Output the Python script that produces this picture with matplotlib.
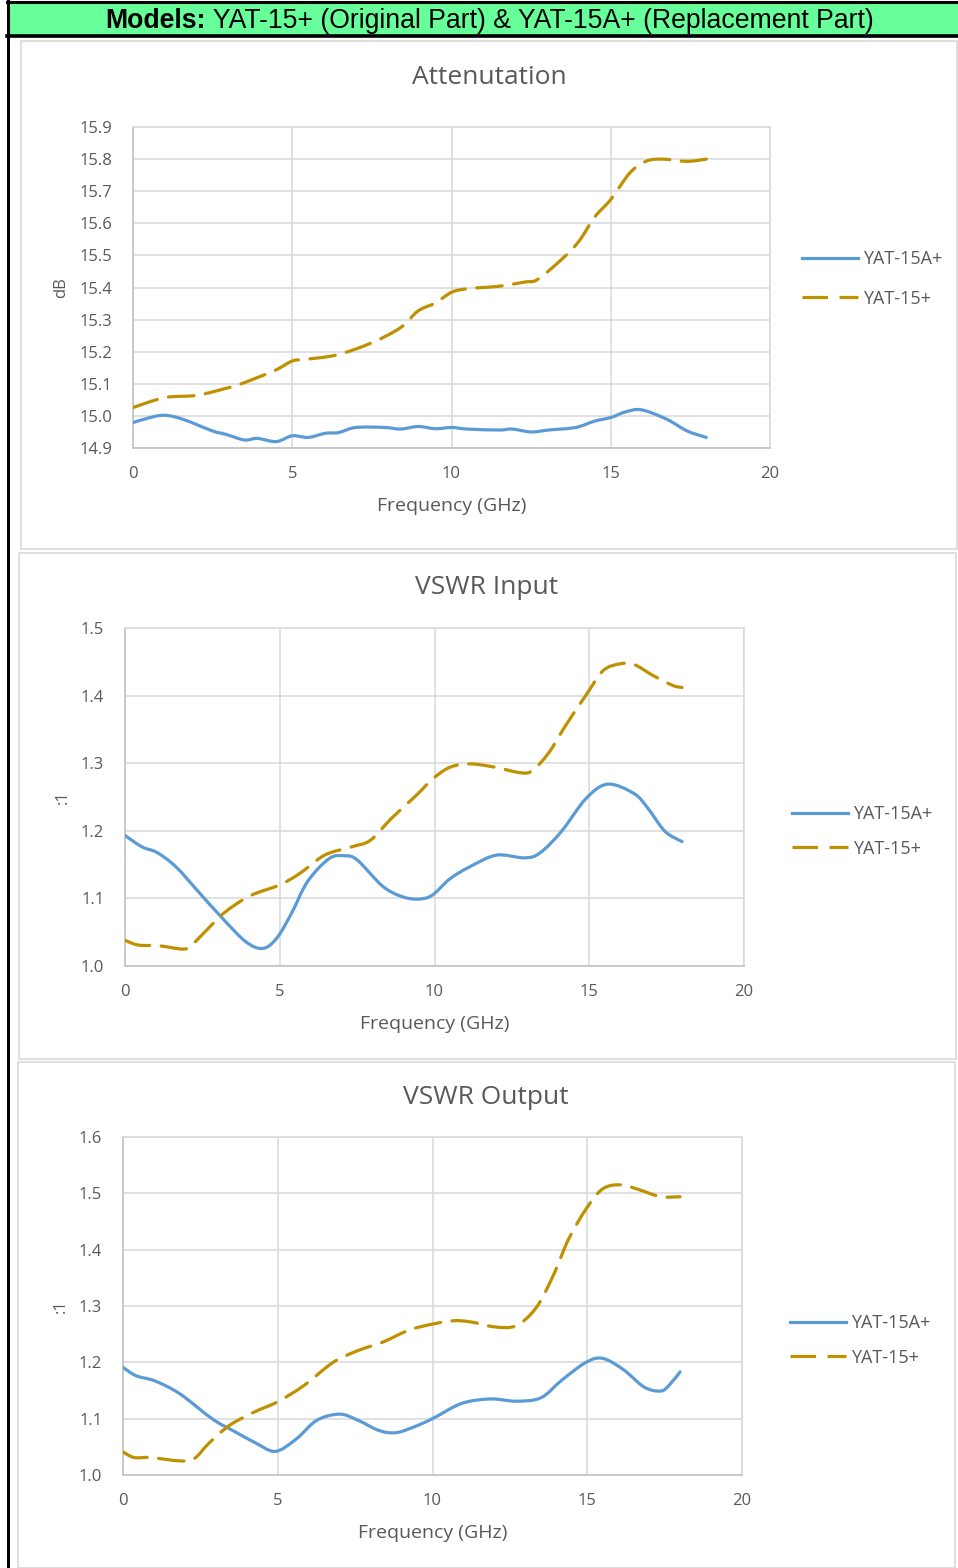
import numpy as np
import matplotlib.pyplot as plt
from matplotlib.patches import Rectangle, PathPatch
from matplotlib.lines import Line2D
from matplotlib.path import Path

W, H = 958, 1568

# ---------------- data ----------------
# Attenuation (dB)
att_a_f = [0, 0.36, 0.95, 1.55, 2.5, 2.9, 3.5, 3.9, 4.5, 5.0, 5.5, 6.05, 6.45, 7.0, 7.9, 8.4,
           8.95, 9.5, 10.0, 10.5, 11.5, 11.9, 12.5, 13.05, 13.9, 14.5, 15.0, 15.45, 15.96,
           16.75, 17.4, 18.0]
att_a_v = [14.979, 14.99, 15.002, 14.99, 14.953, 14.943, 14.925, 14.93, 14.92, 14.938, 14.933,
           14.946, 14.948, 14.964, 14.964, 14.959, 14.967, 14.96, 14.964, 14.959, 14.956,
           14.959, 14.95, 14.956, 14.964, 14.984, 14.995, 15.012, 15.019, 14.99, 14.953, 14.933]
att_o_f = [0, 1.0, 2.0, 3.0, 3.4, 4.46, 5.0, 5.4, 6.4, 7.5, 8.4, 8.95, 9.5, 10.0, 10.5, 11.5,
           12.3, 12.7, 13.45, 14.0, 14.5, 15.0, 15.6, 16.1, 16.6, 17.4, 18.0]
att_o_v = [15.026, 15.057, 15.064, 15.088, 15.10, 15.142, 15.171, 15.176, 15.19, 15.228, 15.275,
           15.327, 15.352, 15.385, 15.396, 15.404, 15.417, 15.425, 15.487, 15.544, 15.62,
           15.674, 15.757, 15.793, 15.80, 15.793, 15.80]

# VSWR input (:1)
vin_a_f = [0, 0.56, 1.03, 1.64, 2.37, 3.1, 3.9, 4.45, 4.9, 5.38, 5.9, 6.6, 7.1, 7.5, 8.3, 8.87,
           9.4, 9.9, 10.5, 11.15, 12.0, 12.9, 13.4, 14.1, 14.9, 15.6, 16.45, 16.9, 17.45, 18.0]
vin_a_v = [1.193, 1.176, 1.168, 1.147, 1.11, 1.073, 1.036, 1.026, 1.041, 1.078, 1.125, 1.159,
           1.163, 1.157, 1.119, 1.104, 1.099, 1.104, 1.129, 1.147, 1.164, 1.16, 1.167, 1.199,
           1.248, 1.269, 1.255, 1.233, 1.199, 1.184]
vin_o_f = [0, 0.43, 1.1, 1.9, 2.2, 2.7, 3.24, 4.05, 5.0, 5.65, 6.45, 7.3, 7.93, 8.6, 9.4, 9.95,
           10.5, 11.15, 11.96, 12.76, 13.16, 13.7, 14.24, 14.9, 15.45, 16.0, 16.45, 17.05, 17.7,
           18.0]
vin_o_v = [1.038, 1.031, 1.03, 1.025, 1.033, 1.056, 1.08, 1.104, 1.12, 1.137, 1.164, 1.176,
           1.186, 1.218, 1.252, 1.277, 1.294, 1.299, 1.294, 1.286, 1.289, 1.316, 1.356, 1.401,
           1.437, 1.447, 1.446, 1.43, 1.415, 1.412]

# VSWR output (:1)
vout_a_f = [0, 0.43, 1.03, 1.84, 2.9, 3.58, 4.25, 4.92, 5.6, 6.26, 7.0, 7.6, 8.27, 8.8, 9.34,
            10.0, 10.94, 11.88, 12.7, 13.5, 14.17, 14.96, 15.5, 16.17, 16.84, 17.37, 17.64, 18.0]
vout_a_v = [1.191, 1.176, 1.167, 1.144, 1.099, 1.078, 1.058, 1.042, 1.064, 1.097, 1.108, 1.097,
            1.079, 1.075, 1.084, 1.10, 1.127, 1.135, 1.131, 1.137, 1.168, 1.20, 1.207, 1.187,
            1.156, 1.149, 1.159, 1.183]
vout_o_f = [0, 0.36, 0.9, 1.84, 2.3, 2.77, 3.44, 4.25, 5.0, 5.85, 6.79, 7.6, 8.4, 9.34, 10.54,
            11.2, 12.0, 12.7, 13.35, 13.9, 14.4, 14.96, 15.5, 16.1, 16.7, 17.37, 18.0]
vout_o_v = [1.041, 1.031, 1.031, 1.025, 1.029, 1.056, 1.088, 1.112, 1.13, 1.159, 1.20, 1.221,
            1.236, 1.259, 1.273, 1.272, 1.263, 1.265, 1.297, 1.354, 1.419, 1.472, 1.508, 1.515,
            1.506, 1.494, 1.494]

labels = ["YAT-15A+", "YAT-15+"]
header_bold = "Models:"
header_rest = " YAT-15+ (Original Part) & YAT-15A+ (Replacement Part)"

# ---------------- style ----------------
blue = "#5B9BD5"
gold = "#BF9000"
txt = "#595959"
grid = "#D9D9D9"
FONT = ["Open Sans", "DejaVu Sans"]
DASH = (8, 3.6)


def fx(x):
    return x / W


def fy(y):
    return 1 - y / H


def smooth_path(xs, ys):
    # Excel-style smoothed line: bezier segments through the measured points
    p = np.column_stack([xs, ys]).astype(float)
    n = len(p)
    verts = [p[0]]
    codes = [Path.MOVETO]
    for i in range(n - 1):
        p0 = p[max(i - 1, 0)]
        p1 = p[i]
        p2 = p[i + 1]
        p3 = p[min(i + 2, n - 1)]
        verts += [p1 + (p2 - p0) / 6, p2 - (p3 - p1) / 6, p2]
        codes += [Path.CURVE4] * 3
    return Path(verts, codes)


fig = plt.figure(figsize=(W / 100, H / 100), dpi=100)
fig.patch.set_facecolor("white")

# header bar and black frame
fig.patches.append(Rectangle((fx(8), fy(35)), fx(950), 32 / H, transform=fig.transFigure,
                             facecolor="#66FF99", edgecolor="none", zorder=0))
fig.add_artist(Line2D([fx(7), 1], [fy(2), fy(2)], color="black", lw=2.2))
fig.add_artist(Line2D([fx(7), 1], [fy(36), fy(36)], color="black", lw=2.6))
fig.add_artist(Line2D([fx(7.5), fx(7.5)], [0, fy(1)], color="black", lw=2.2))

t1 = fig.text(fx(105), fy(21.5), header_bold, fontsize=19.2, fontweight="bold",
              family="Liberation Sans", va="center", ha="left")
r = fig.canvas.get_renderer()
bb = t1.get_window_extent(r)
fig.text(bb.x1 / W, fy(21.5), header_rest, fontsize=19.2, family="Liberation Sans",
         va="center", ha="left")

panels = [
    dict(box=(21, 41, 957, 549), ax=(133, 127, 770, 448), title="Attenutation", tx=489, ty=78,
         ylab="dB", ylim=(14.9, 15.9), yticks=np.arange(14.9, 15.95, 0.1),
         a=(att_a_f, att_a_v), o=(att_o_f, att_o_v), leg=(802, 279), sp=1.19),
    dict(box=(19, 553, 956, 1059), ax=(125, 628, 744, 966), title="VSWR Input", tx=487, ty=588,
         ylab=":1", ylim=(1.0, 1.5), yticks=np.arange(1.0, 1.55, 0.1),
         a=(vin_a_f, vin_a_v), o=(vin_o_f, vin_o_v), leg=(792, 831.5), sp=0.91),
    dict(box=(18, 1062, 955, 1568), ax=(123, 1137, 742, 1475), title="VSWR Output", tx=486,
         ty=1097, ylab=":1", ylim=(1.0, 1.6), yticks=np.arange(1.0, 1.65, 0.1),
         a=(vout_a_f, vout_a_v), o=(vout_o_f, vout_o_v), leg=(790, 1340.5), sp=0.91),
]

for p in panels:
    x0, y0, x1, y1 = p["box"]
    fig.patches.append(Rectangle((fx(x0), fy(y1)), fx(x1 - x0), (y1 - y0) / H,
                                 transform=fig.transFigure, facecolor="none",
                                 edgecolor=grid, lw=1.2, zorder=0))
    a0, b0, a1, b1 = p["ax"]
    ax = fig.add_axes([fx(a0), fy(b1), fx(a1 - a0), (b1 - b0) / H])
    ax.add_patch(PathPatch(smooth_path(*p["a"]), facecolor="none", edgecolor=blue, lw=2.3,
                           capstyle="round", joinstyle="round", zorder=3))
    ax.add_patch(PathPatch(smooth_path(*p["o"]), facecolor="none", edgecolor=gold, lw=2.3,
                           linestyle=(0, DASH), capstyle="round", zorder=3))
    ax.set_xlim(0, 20)
    ax.set_ylim(*p["ylim"])
    ax.set_xticks([0, 5, 10, 15, 20])
    ax.set_yticks(p["yticks"])
    ax.set_yticklabels(["%.1f" % v for v in p["yticks"]])
    ax.grid(True, color=grid, lw=1.1)
    ax.set_axisbelow(True)
    for s in ax.spines.values():
        s.set_color(grid)
        s.set_linewidth(1.1)
    ax.spines["left"].set_color("#BFBFBF")
    ax.spines["bottom"].set_color("#BFBFBF")
    ax.tick_params(length=0, labelsize=12, labelcolor=txt)
    ax.tick_params(axis="x", pad=13)
    ax.tick_params(axis="y", pad=15)
    for lab in ax.get_xticklabels() + ax.get_yticklabels():
        lab.set_family(FONT)
    ax.set_xlabel("Frequency (GHz)", fontsize=14, color=txt, family=FONT, labelpad=11)
    ax.set_ylabel(p["ylab"], fontsize=12, color=txt, family=FONT, labelpad=7)
    fig.text(fx(p["tx"]), fy(p["ty"]), p["title"], fontsize=19, color=txt, family=FONT,
             ha="center", va="center")
    handles = [Line2D([], [], color=blue, lw=2.3),
               Line2D([], [], color=gold, lw=2.3, dashes=DASH)]
    lx, ly = p["leg"]
    ax.legend(handles, labels, loc="center left", bbox_to_anchor=(fx(lx), fy(ly)),
              bbox_transform=fig.transFigure, frameon=False, borderaxespad=0,
              prop={"family": FONT, "size": 13}, labelcolor=txt,
              handlelength=3.1, handletextpad=0.3, labelspacing=p["sp"], borderpad=0)

fig.savefig("out.png", dpi=100)
